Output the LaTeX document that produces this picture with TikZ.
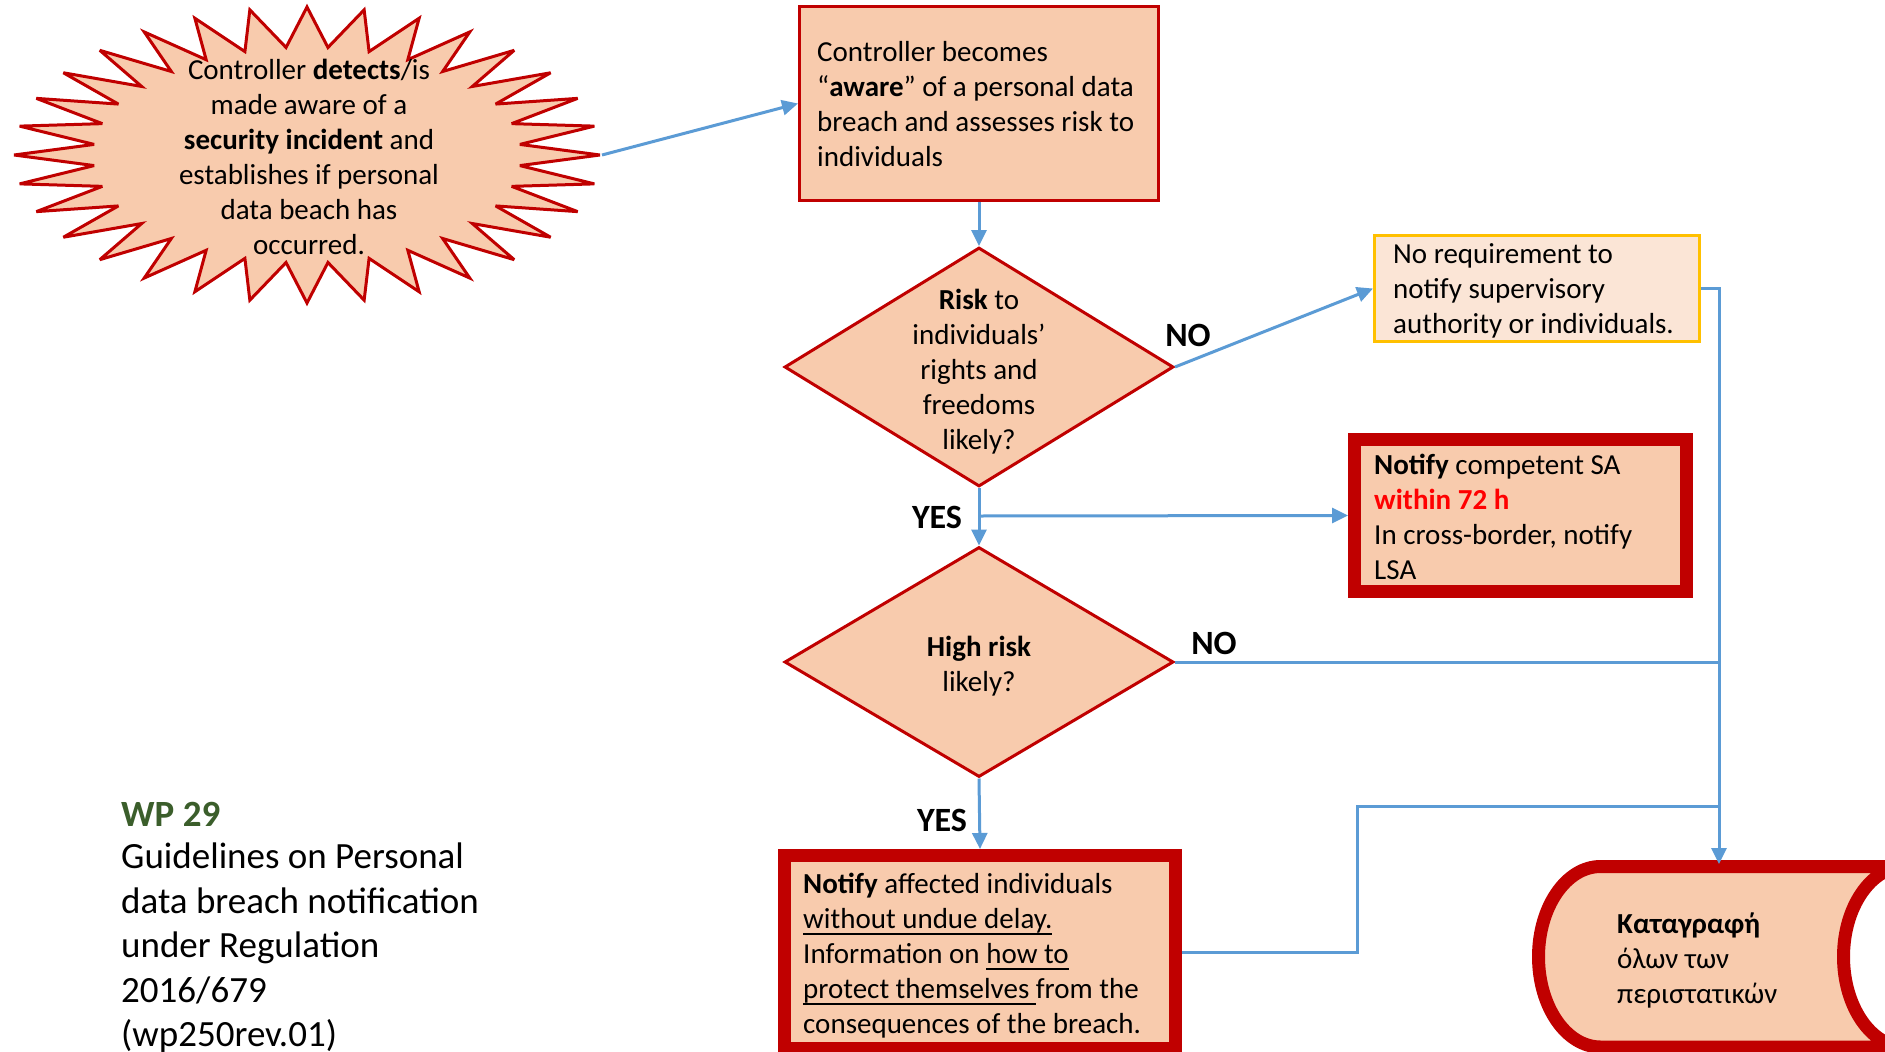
\documentclass[tikz,border=0pt]{standalone}
\usepackage{fontspec}
\setmainfont{Carlito}
\usetikzlibrary{shapes.geometric,arrows.meta}
\definecolor{peach}{HTML}{F8CBAD}
\definecolor{lpeach}{HTML}{FBE5D6}
\definecolor{dred}{HTML}{C00000}
\definecolor{gold}{HTML}{FFC000}
\definecolor{cblue}{HTML}{5B9BD5}
\definecolor{wpgreen}{HTML}{3B5E2B}
\definecolor{hotred}{HTML}{FF0000}
\newsavebox\myulbox
\newcommand\myul[1]{\sbox\myulbox{#1}\rlap{\rule[-6pt]{\wd\myulbox}{1.8pt}}\usebox\myulbox}
\begin{document}
\begin{tikzpicture}[x=1pt,y=-1pt,
  txt/.style={font=\fontsize{29}{35}\selectfont, inner sep=0pt, align=left},
  ctxt/.style={font=\fontsize{29}{35}\selectfont, inner sep=0pt, align=center},
  lbl/.style={font=\fontsize{34}{40}\selectfont\bfseries, inner sep=0pt},
  thinbox/.style={draw=dred, line width=3pt, fill=peach, inner sep=0pt},
  thickbox/.style={draw=dred, line width=13pt, fill=peach, inner sep=0pt},
  dia/.style={diamond, draw=dred, line width=3pt, fill=peach, inner sep=0pt},
  conn/.style={draw=cblue, line width=3pt},
  arr/.style={conn, -{Triangle[length=16pt,width=15pt]}},
]
\useasboundingbox (0,0) rectangle (1885,1052);
\clip (0,0) rectangle (1885,1052);
\fill[white] (0,0) rectangle (1885,1052);

% starburst
\draw[draw=dred, line width=3pt, fill=peach, miter limit=4]
  plot[samples=65, domain=0:64]
  ({307+(0.865+0.135*cos(\x*180))*293*cos(\x*5.625)},
   {155+(0.865+0.135*cos(\x*180))*148*sin(\x*5.625)}) -- cycle;
\coordinate (stip) at (602,155);
\node[ctxt] (st) at (309,157) {Controller \textbf{detects}/is\\made aware of a\\\textbf{security incident} and\\establishes if personal\\data beach has\\occurred.};

% box 1
\node[thinbox, minimum width=359pt, minimum height=194pt] (b1) at (979,103.5) {};
\node[txt, anchor=west] (b1t) at (817,104) {Controller becomes\\“\textbf{aware}” of a personal data\\breach and assesses risk to\\individuals};

% diamond 1
\node[dia, minimum width=389pt, minimum height=239pt] (d1) at (979,367) {};
\node[ctxt] (d1t) at (979,372) {\textbf{Risk} to\\individuals’\\rights and\\freedoms\\likely?};

% diamond 2
\node[dia, minimum width=389pt, minimum height=230pt] (d2) at (979,662) {};
\node[ctxt] (d2t) at (979,666) {\textbf{High risk}\\likely?};

% yellow box
\node[draw=gold, line width=3pt, fill=lpeach, inner sep=0pt, minimum width=325pt, minimum height=106pt] (yb) at (1537,288.5) {};
\node[txt, anchor=west] (ybt) at (1393,291) {No requirement to\\notify supervisory\\authority or individuals.};

% red box 1
\node[thickbox, minimum width=332pt, minimum height=152pt] (rb1) at (1520.5,515.5) {};
\node[txt, anchor=west] (rb1t) at (1374,517) {\textbf{Notify} competent SA\\\textcolor{hotred}{\textbf{within 72 h}}\\In cross-border, notify\\LSA};

% red box 2
\node[thickbox, minimum width=391pt, minimum height=193pt] (rb2) at (980,952) {};
\node[txt, anchor=west] (rb2t) at (803,956) {\textbf{Notify} affected individuals\\\myul{without undue delay.}\\Information on \myul{how to}\\\myul{protect themselves }from the\\consequences of the breach.};

% stored data shape
\draw[draw=dred, line width=13pt, fill=peach]
  (1600.5,866.5) -- (1905.5,866.5)
  arc[start angle=270, end angle=90, x radius=62, y radius=90.25]
  -- (1600.5,1047)
  arc[start angle=90, end angle=270, x radius=62, y radius=90.25] -- cycle;
\coordinate (ktop) at (1719,864);
\node[txt, anchor=west] (kt) at (1617,960) {\textbf{Καταγραφή}\\όλων των\\περιστατικών};

% left note
\node[font=\fontsize{37}{44}\selectfont\bfseries, text=wpgreen, inner sep=0pt, anchor=west] (wp) at (121,814) {WP 29};
\node[font=\fontsize{37}{44.5}\selectfont, align=left, inner sep=0pt, anchor=west] (gl) at (121,948) {Guidelines on Personal\\data breach notification\\under Regulation\\2016/679\\(wp250rev.01)};

% labels
\node[lbl] (no1) at (1188,335) {NO};
\node[lbl] (no2) at (1214,643) {NO};
\node[lbl] (yes1) at (937,517) {YES};
\node[lbl] (yes2) at (942,820) {YES};

% connectors
\draw[arr] (stip) -- (b1.west);
\draw[arr] (b1.south) -- (d1.north);
\draw[arr] (d1.east) -- (yb.west);
\draw[arr] (d1.south) -- (d2.north);
\coordinate (j1) at (979,516);
\draw[arr] (j1) -- (rb1.west);
\draw[arr] (d2.south) -- (rb2.north);
\draw[arr] (yb.east) -| (ktop);
\coordinate (j2) at (1719,662);
\draw[conn] (d2.east) -- (j2);
\coordinate (bend) at (1357,806);
\coordinate (j3) at (1719,806);
\draw[conn] (rb2.east) -| (bend) -- (j3);
\end{tikzpicture}
\end{document}
